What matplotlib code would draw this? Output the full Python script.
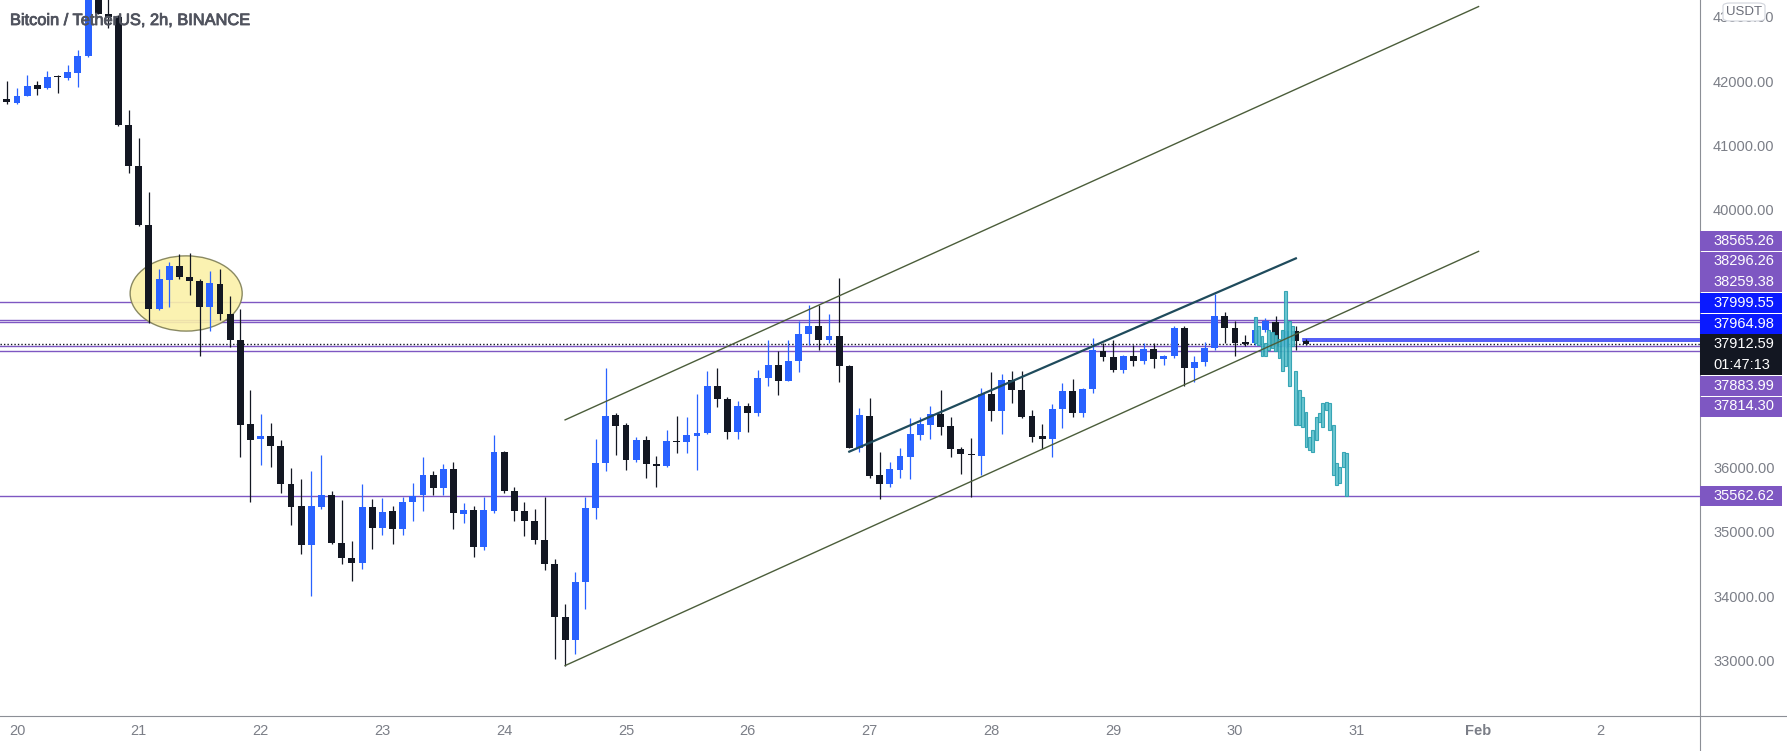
import matplotlib
matplotlib.use('Agg')
import matplotlib.pyplot as plt
import matplotlib.dates as mdates
import matplotlib.patheffects as pe
from matplotlib.patches import Ellipse, Rectangle, FancyBboxPatch
from matplotlib.lines import Line2D
import pandas as pd

plt.rcParams['font.family'] = ['Liberation Sans', 'DejaVu Sans']

# BTC/USDT 2h candles, first one opens 2022-01-19 20:00
first_candle = '2022-01-19 20:00'
opens = [41876, 41720, 41658, 41772, 41938, 41886, 42068, 42047, 42125, 42384,
         43400, 43047, 42990, 41322, 40683, 39759, 38461, 38908, 39125, 38959,
         38892, 38493, 38851, 38383, 37984, 36676, 36437, 36489, 36338, 35736,
         35399, 34792, 35389, 35570, 34833, 34595, 34517, 35378, 35062, 35321,
         35036, 35456, 35570, 35882, 35674, 35970, 35269, 35337, 34766, 35326,
         36235, 35638, 35326, 35171, 34880, 34506, 33676, 33323, 34221, 35363,
         36064, 36816, 36660, 36115, 36427, 36053, 36027, 36401, 36401, 36494,
         36530, 37267, 37060, 36546, 36956, 36842, 37387, 37594, 37345, 37646,
         38077, 38201, 37973, 38046, 37578, 36307, 36800, 35882, 35736, 35960,
         36167, 36504, 36660, 36831, 36644, 36281, 36209, 36183, 37143, 36878,
         37361, 37205, 36800, 36489, 36437, 36904, 37189, 36842, 37215, 37802,
         37713, 37517, 37724, 37646, 37838, 37687, 37724, 38165, 37543, 37630,
         37853, 38357, 38165, 37943, 37933, 38130, 38254, 37880, 38125, 37969]
highs = [41900, 42006, 41887, 42094, 42006, 42161, 42094, 42250, 42483, 43500,
         43480, 43300, 43018, 41549, 41109, 40283, 39074, 39188, 39308, 39323,
         38918, 39048, 39074, 38658, 38461, 37205, 36831, 36686, 36427, 35986,
         35814, 35944, 36193, 35638, 35493, 34860, 35736, 35503, 35518, 35399,
         35544, 35762, 36157, 35944, 36048, 36079, 35451, 35399, 35544, 36504,
         36261, 35700, 35467, 35347, 35544, 34584, 33884, 34377, 35534, 36437,
         37543, 36842, 36686, 36478, 36489, 36177, 36582, 36800, 36790, 37143,
         37491, 37543, 37101, 37039, 36998, 37517, 37984, 37802, 37984, 38269,
         38528, 38528, 38388, 38934, 37590, 36920, 37075, 36245, 36079, 36307,
         36764, 36779, 36946, 37205, 36790, 36323, 36452, 37231, 37475, 37454,
         37501, 37501, 36894, 36676, 36987, 37309, 37376, 37231, 38010, 37932,
         37973, 37750, 37906, 37932, 37932, 37750, 38191, 38201, 37724, 37942,
         38700, 38409, 38269, 38063, 38338, 38327, 38358, 38249, 38192, 38000]
lows = [41695, 41642, 41642, 41762, 41788, 41876, 41814, 42021, 41912, 42380,
        43040, 42820, 41307, 40579, 39749, 38243, 38451, 38487, 38928, 38684,
        37724, 38113, 38295, 37869, 36167, 35456, 36038, 36012, 35607, 35103,
        34662, 34000, 35347, 34808, 34506, 34231, 34429, 34740, 34948, 34818,
        34948, 35171, 35326, 35570, 35570, 35036, 35140, 34610, 34714, 35285,
        35607, 35171, 34932, 34818, 34413, 33027, 32923, 33105, 33806, 35192,
        35949, 36193, 35960, 36089, 35830, 35700, 36012, 36229, 36219, 35960,
        36515, 36935, 36437, 36437, 36556, 36800, 37267, 37117, 37335, 37475,
        37906, 37828, 37932, 37319, 36297, 36245, 35840, 35508, 35700, 35830,
        35820, 36427, 36437, 36504, 36167, 35897, 35544, 35882, 36722, 36515,
        36998, 36764, 36401, 36281, 36167, 36608, 36779, 36779, 37153, 37646,
        37475, 37465, 37568, 37604, 37543, 37594, 37698, 37267, 37319, 37568,
        37828, 37932, 37734, 37891, 37907, 38109, 37802, 37860, 37829, 37905]
closes = [41720, 41668, 41772, 41928, 41876, 42057, 42068, 42135, 42384, 43400,
          43047, 42990, 41322, 40683, 39759, 38461, 38918, 39125, 38959, 38892,
          38493, 38866, 38383, 37973, 36660, 36427, 36489, 36338, 35736, 35389,
          34792, 35399, 35570, 34828, 34595, 34517, 35378, 35062, 35311, 35036,
          35467, 35555, 35882, 35674, 35970, 35285, 35337, 34766, 35337, 36235,
          35638, 35326, 35171, 34880, 34506, 33676, 33323, 34221, 35363, 36064,
          36800, 36650, 36115, 36427, 36048, 36027, 36411, 36401, 36504, 36530,
          37267, 37060, 36546, 36956, 36842, 37387, 37594, 37345, 37656, 38077,
          38201, 37973, 38046, 37568, 36307, 36816, 35871, 35736, 35975, 36183,
          36520, 36676, 36831, 36634, 36281, 36203, 36188, 37143, 36878, 37361,
          37205, 36790, 36478, 36437, 36904, 37189, 36842, 37215, 37828, 37713,
          37517, 37734, 37646, 37838, 37682, 37734, 38165, 37543, 37630, 37853,
          38357, 38165, 37932, 37912, 38140, 38280, 37880, 38114, 37958, 37912.59]

# projected "bars pattern" (teal)
pattern_start = '2022-01-30 04:00'
pattern_hi = [38337, 38200, 38035, 37932, 38139, 38100, 38050, 38000, 38139, 38736,
              38269, 38191, 37491, 37205, 37101, 36868, 36479, 36582, 36790, 36842,
              36998, 37023, 36998, 36660, 36064, 36012, 36245, 36230]
pattern_lo = [37932, 37900, 37724, 37724, 37828, 37850, 37800, 37700, 37491, 37569,
              37257, 37880, 36660, 36660, 36634, 36323, 36271, 36245, 36427, 36712,
              36634, 36894, 36582, 35881, 35726, 35752, 36012, 35555]

# horizontal levels
purple_levels = [38565.26, 38296.26, 38259.38, 37883.99, 37814.30, 35562.62]
blue_levels = [37999.55, 37964.98]
blue_start = '2022-01-30 13:20'
last_price = 37912.59
countdown = '01:47:13'

# trend lines: (time, price) pairs
channel_low = [('2022-01-24 12:00', 32923), ('2022-02-01 00:00', 39355)]
channel_high = [('2022-01-24 12:00', 36738), ('2022-02-01 00:00', 43156)]
inner_line = [('2022-01-26 20:00', 36245), ('2022-01-30 12:00', 39246)]

# highlighted zone
zone_center = ('2022-01-21 09:20', 38701)
zone_days = 0.92
zone_price = 1168

price_ticks = [33000, 34000, 35000, 36000, 40000, 41000, 42000, 43000]
day_ticks = pd.date_range('2022-01-20', '2022-02-02', freq='D')
day_labels = [str(d.day) for d in day_ticks]
day_labels[12] = 'Feb'

W, H = 1787, 751
PW, PH = 1700, 716
fig = plt.figure(figsize=(W / 100, H / 100), dpi=100)
ax = fig.add_axes([0, 1 - PH / H, PW / W, PH / H])
for s in ax.spines.values():
    s.set_visible(False)

t = mdates.date2num(pd.date_range(first_candle, periods=len(opens), freq='2h').to_pydatetime())
step = 1 / 12
up_col, dn_col = '#2962ff', '#131722'
for x, o, h, l, c in zip(t, opens, highs, lows, closes):
    col = up_col if c > o else dn_col
    ax.vlines(x, l, h, color=col, lw=0.9, zorder=3)
    lo_b, hi_b = min(o, c), max(o, c)
    ax.bar(x, max(hi_b - lo_b, 14), bottom=lo_b, width=step * 0.68, color=col, lw=0, zorder=3)

pt = mdates.date2num(pd.date_range(pattern_start, periods=len(pattern_hi), freq='40min').to_pydatetime())
for x, hi, lo in zip(pt, pattern_hi, pattern_lo):
    ax.bar(x, hi - lo, bottom=lo, width=step / 3 * 0.85, color='#5cc0cc', edgecolor='#2a9fb0',
           lw=0.8, alpha=0.9, zorder=4)

for p in purple_levels:
    ax.axhline(p, color='#7e57c2', lw=1.0, zorder=2)
bx = mdates.date2num(pd.Timestamp(blue_start).to_pydatetime())
for p in blue_levels:
    ax.plot([bx, 1e9], [p, p], color='#3340f5', lw=1.2, zorder=2)
ax.axhline(last_price, color='#131722', lw=1.0, ls=(0, (1, 1.5)), zorder=2)

def draw_seg(seg, **kw):
    xs = mdates.date2num([pd.Timestamp(a).to_pydatetime() for a, _ in seg])
    ax.plot(xs, [b for _, b in seg], **kw)

draw_seg(channel_low, color='#4b5d3a', lw=1.0, zorder=5)
draw_seg(channel_high, color='#4b5d3a', lw=1.0, zorder=5)
draw_seg(inner_line, color='#1f4b5c', lw=1.6, zorder=5)

zc = mdates.date2num(pd.Timestamp(zone_center[0]).to_pydatetime())
ax.add_patch(Ellipse((zc, zone_center[1]), zone_days, zone_price, facecolor='#fbf1a9',
                     edgecolor='#7d7d55', lw=1.0, alpha=0.9, zorder=2.5))

x_left = mdates.date2num(pd.Timestamp('2022-01-19 20:39').to_pydatetime())
x_right = mdates.date2num(pd.Timestamp('2022-02-02 19:38').to_pydatetime())
ax.set_xlim(x_left, x_right)
ax.set_ylim(32140, 43258)

gray = '#7b7e87'
ax.yaxis.tick_right()
ax.set_yticks(price_ticks)
ax.set_yticklabels([f'{p:.2f}' for p in price_ticks])
ax.tick_params(axis='y', length=0, pad=9.4, labelsize=10.5, labelcolor=gray)
ax.set_xticks(mdates.date2num(day_ticks.to_pydatetime()))
ax.set_xticklabels(day_labels)
ax.tick_params(axis='x', length=0, pad=5.5, labelsize=10.5, labelcolor=gray)
ax.get_xticklabels()[12].set_fontweight('bold')

# axis borders
fig.add_artist(Line2D([PW / W, PW / W], [0, 1], color='#8c8f96', lw=0.8))
fig.add_artist(Line2D([0, 1], [1 - PH / H, 1 - PH / H], color='#8c8f96', lw=0.8))

# price labels on the axis, stacked like TradingView
def ytop(price):
    return H - ax.transData.transform((x_left, price))[1]

lh = 20.7
yc = ytop(last_price)
placed = []
above = sorted([(p, '#7e57c2') for p in purple_levels if p > last_price] +
               [(p, '#0a1aff') for p in blue_levels if p > last_price])
prev = yc
for p, c in above:
    y = min(ytop(p), prev - lh)
    placed.append((y, f'{p:.2f}', c))
    prev = y
below = sorted([(p, '#7e57c2') for p in purple_levels if p < last_price], reverse=True)
prev = yc + lh
for p, c in below:
    y = max(ytop(p), prev + lh)
    placed.append((y, f'{p:.2f}', c))
    prev = y
placed.append((yc, f'{last_price:.2f}', '#131722'))
placed.append((yc + lh, countdown, '#131722'))

for y, txt, c in placed:
    fig.add_artist(Rectangle((PW / W, 1 - (y + lh / 2) / H), 82 / W, (lh - 0.6) / H,
                             transform=fig.transFigure, facecolor=c, edgecolor='none', zorder=6))
    fig.text(1713 / W, 1 - y / H, txt, color='white', fontsize=10.5, va='center', ha='left', zorder=7)

fig.add_artist(FancyBboxPatch((1723 / W, 1 - 21 / H), 42 / W, 18 / H, transform=fig.transFigure,
                              boxstyle='round,pad=0.0,rounding_size=0.004', facecolor='white',
                              edgecolor='#d1d4dc', lw=0.8, zorder=8))
fig.text(1744 / W, 1 - 12 / H, 'USDT', color='#6a6d78', fontsize=9.5, ha='center', va='center', zorder=9)

title = fig.text(10 / W, 1 - 20.5 / H, 'Bitcoin / TetherUS, 2h, BINANCE', color='#50535e',
                 fontsize=11.8, va='center', ha='left', zorder=9)
title.set_path_effects([pe.withStroke(linewidth=0.6, foreground='#50535e')])

fig.savefig('out.png', dpi=100, facecolor='white')
